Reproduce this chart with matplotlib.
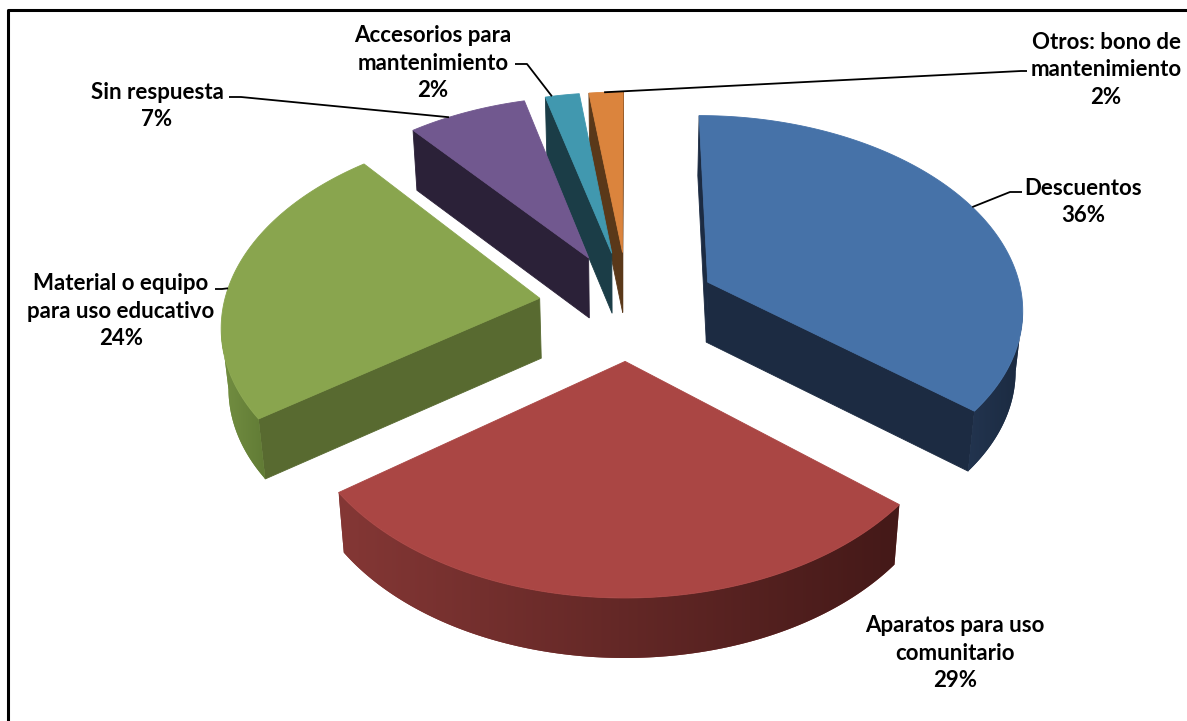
import numpy as np
import matplotlib.pyplot as plt
from matplotlib.patches import Polygon
from matplotlib.colors import LinearSegmentedColormap

# Survey answers, in pie order (clockwise from 12 o'clock)
labels = [
    "Descuentos",
    "Aparatos para uso\ncomunitario",
    "Material o equipo\npara uso educativo",
    "Sin respuesta",
    "Accesorios para\nmantenimiento",
    "Otros: bono de\nmantenimiento",
]
values = [36, 29, 24, 7, 2, 2]

top_colors = ["#4672A8", "#AA4644", "#89A54E", "#71588F", "#4198AF", "#DB843D"]
side_colors = ["#1C2B42", "#4A1C1B", "#586A30", "#2B2138", "#1B3D47", "#5A3819"]
curve_colors = [
    ("#22344F", "#1B2A40"),
    ("#843735", "#441918"),
    ("#738F42", "#617B35"),
    ("#3A2D4A", "#2B2138"),
    ("#24505C", "#1B3D47"),
    ("#7A4A22", "#5A3819"),
]

# label block centres (px) and leader lines: (start, elbow, angle on slice rim)
label_pos = [(1083, 202), (955, 653), (121, 311), (157, 106), (433, 63), (1106, 70)]
leaders = [
    ((1022, 192), (1010, 192), 65),
    None,
    ((215, 289), (222, 289), 273),
    ((229, 97), (241, 97), 329),
    ((515, 64), (527, 64), 347),
    ((1027, 71), (1021, 71), 356),
]

# camera / layout of the 3-D pie
ELEV = np.radians(37.5)
DIST = 6.45
FOCAL = 2038
CX, CY = 628, 305
EXPLODE = 0.283
DEPTH_PX = 60
SHRINK = 0.982


def to_screen(px, py):
    ce, se = np.cos(ELEV), np.sin(ELEV)
    depth = DIST + py * ce
    return CX + FOCAL * px / depth, CY - FOCAL * py * se / depth


def drop(sx, sy):
    return CX + (sx - CX) * SHRINK, sy + DEPTH_PX


def shaded(ax, pts, c_left, c_right, z):
    poly = Polygon(pts, closed=True, facecolor=c_left, edgecolor="none", zorder=z)
    ax.add_patch(poly)
    x0, x1 = pts[:, 0].min(), pts[:, 0].max()
    y0, y1 = pts[:, 1].min(), pts[:, 1].max()
    cmap = LinearSegmentedColormap.from_list("wall", [c_left, c_right])
    im = ax.imshow(np.linspace(0, 1, 256)[None, :], extent=(x0, x1, y1, y0),
                   cmap=cmap, aspect="auto", zorder=z + 0.01, interpolation="bilinear")
    im.set_clip_path(poly)


fig = plt.figure(figsize=(11.87, 7.21), dpi=100)
ax = fig.add_axes([0, 0, 1, 1])
ax.axis("off")

fracs = np.array(values, dtype=float) / sum(values)
bounds = np.concatenate([[0], np.cumsum(fracs) * 360])

slices = []
for i in range(len(values)):
    a0, a1 = bounds[i], bounds[i + 1]
    mid = np.radians((a0 + a1) / 2)
    ox, oy = EXPLODE * np.sin(mid), EXPLODE * np.cos(mid)
    t = np.radians(np.linspace(a0, a1, max(int(a1 - a0) * 2, 8)))
    rim = np.array([to_screen(ox + np.sin(v), oy + np.cos(v)) for v in t])
    centre = np.array(to_screen(ox, oy))
    slices.append((i, oy, ox, centre, rim))

# far slices first
order = sorted(slices, key=lambda s: -s[1])
z = 1
for i, oy, ox, centre, rim in order:
    # radial walls
    for p, q in [(centre, rim[0]), (rim[-1], centre)]:
        if q[0] - p[0] < 0:
            quad = np.array([p, q, drop(*q), drop(*p)])
            ax.add_patch(Polygon(quad, closed=True, facecolor=side_colors[i],
                                 edgecolor=side_colors[i], lw=0.6, zorder=z))
    z += 1
    # outer rim wall where it faces the viewer
    dx = np.diff(rim[:, 0])
    vis = np.where(dx < 0)[0]
    if len(vis):
        k0, k1 = vis[0], vis[-1] + 1
        top = rim[k0:k1 + 1]
        bot = np.array([drop(*p) for p in top])[::-1]
        shaded(ax, np.vstack([top, bot]), curve_colors[i][0], curve_colors[i][1], z)
    z += 1
    face = np.vstack([centre, rim])
    ax.add_patch(Polygon(face, closed=True, facecolor=top_colors[i],
                         edgecolor=top_colors[i], lw=0.6, zorder=z))
    z += 1

# labels and leader lines
for i, (lx, ly) in enumerate(label_pos):
    ax.text(lx, ly, f"{labels[i]}\n{values[i]}%", ha="center", va="center",
            fontsize=16, fontweight="bold", family="Lato", linespacing=1.4,
            color="black", zorder=50)
    if leaders[i] is not None:
        s, e, ang = leaders[i]
        mid = np.radians((bounds[i] + bounds[i + 1]) / 2)
        ox, oy = EXPLODE * np.sin(mid), EXPLODE * np.cos(mid)
        a = np.radians(ang)
        end = to_screen(ox + np.sin(a), oy + np.cos(a))
        ax.plot([s[0], e[0], end[0]], [s[1], e[1], end[1]], color="black",
                lw=1.3, zorder=49, solid_capstyle="butt")

# chart border
ax.plot([8, 8, 1195], [730, 10, 10], color="black", lw=2.2, zorder=60)

ax.set_xlim(0, 1187)
ax.set_ylim(721, 0)
fig.savefig("out.png", dpi=100)
